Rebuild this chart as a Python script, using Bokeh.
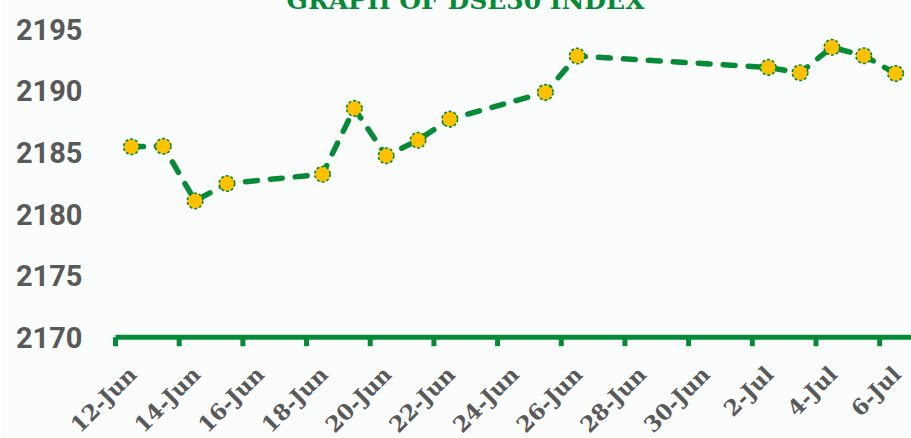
import pandas as pd
from bokeh.plotting import figure
from bokeh.models import Range1d, Label
from bokeh.core.properties import value
from bokeh.embed import file_html
from bokeh.resources import INLINE

# ---- data ----
dates = ["2023-06-12", "2023-06-13", "2023-06-14", "2023-06-15", "2023-06-18",
         "2023-06-19", "2023-06-20", "2023-06-21", "2023-06-22", "2023-06-25",
         "2023-06-26", "2023-07-02", "2023-07-03", "2023-07-04", "2023-07-05",
         "2023-07-06"]
dse30 = [2185.45, 2185.50, 2181.06, 2182.47, 2183.23,
         2188.57, 2184.72, 2185.99, 2187.70, 2189.87,
         2192.82, 2191.90, 2191.46, 2193.53, 2192.85,
         2191.41]
tick_dates = ["2023-06-12", "2023-06-14", "2023-06-16", "2023-06-18", "2023-06-20",
              "2023-06-22", "2023-06-24", "2023-06-26", "2023-06-28", "2023-06-30",
              "2023-07-02", "2023-07-04", "2023-07-06"]
tick_labels = ["12-Jun", "14-Jun", "16-Jun", "18-Jun", "20-Jun", "22-Jun", "24-Jun",
               "26-Jun", "28-Jun", "30-Jun", "2-Jul", "4-Jul", "6-Jul"]
y_ticks = [2170, 2175, 2180, 2185, 2190, 2195]
y_tick_labels = ["2170", "2175", "2180", "2185", "2190", "2195"]
y_base = 2170
title_text = "GRAPH OF DSE30 INDEX"

GREEN = "#078A38"
GOLD = "#FFC000"
GRAY = "#595959"
BG = "#FBFDFD"

DAY = 86400000.0
def ms(s):
    return pd.Timestamp(s).value / 1e6

x_vals = [ms(d) + DAY / 2 for d in dates]      # points sit mid-day
tick_ms = [ms(d) for d in tick_dates]
x_first = ms("2023-06-12")
x_last = ms("2023-07-07")

# layout: the frame fills the whole canvas; axes are drawn inside it
W, H = 911, 450
LEFT = 115             # pixels left of the first date
PX = 12.32             # pixels per index point
AXIS_FROM_TOP = 348.7  # where the base line sits, from canvas top
ms_per_px = (x_last - x_first) / (W - LEFT)
x_view_start = x_first - LEFT * ms_per_px
y_end = y_base + AXIS_FROM_TOP / PX
y_start = y_base - (H - AXIS_FROM_TOP) / PX

p = figure(width=W, height=H, output_backend="svg", toolbar_location=None,
           x_range=Range1d(x_view_start, x_last), y_range=Range1d(y_start, y_end),
           x_axis_location=None, y_axis_location=None,
           min_border_left=0, min_border_right=0, min_border_top=0,
           min_border_bottom=0,
           background_fill_color=BG, border_fill_color=BG, outline_line_color=None,
           styles={"margin-top": "-12px"})

p.xgrid.visible = False
p.ygrid.visible = False

# y tick labels
p.text(x=[x_first] * len(y_ticks), y=y_ticks, text=y_tick_labels,
       x_offset=-33, text_align="right", text_baseline="middle",
       text_font=value("Roboto"), text_font_style="bold",
       text_font_size=value("29px"), text_color=GRAY)

# horizontal base axis
p.segment(x0=[x_first], y0=[y_base], x1=[x_last], y1=[y_base],
          line_color=GREEN, line_width=5)
tick_len = 9 / PX
p.segment(x0=tick_ms, y0=[y_base] * len(tick_ms), x1=tick_ms,
          y1=[y_base - tick_len] * len(tick_ms), line_color=GREEN, line_width=5)
p.text(x=tick_ms, y=[y_base - 33 / PX] * len(tick_ms), text=tick_labels,
       angle=0.785398, x_offset=17, text_align="right", text_baseline="middle",
       text_font=value("DejaVu Serif"), text_font_style="bold",
       text_font_size=value("22px"), text_color=GRAY)

p.line(x_vals, dse30, line_color=GREEN, line_width=5.5, line_dash="12 13",
       line_cap="round", line_join="round")
p.scatter(x_vals, dse30, size=15.5, fill_color=GOLD, line_color=GREEN,
          line_width=1.6, line_dash="3 2")

title = Label(x=x_first + (465 - LEFT) * ms_per_px, y=2197.35, text=title_text,
              text_align="center", text_baseline="alphabetic",
              text_font="DejaVu Serif", text_font_style="bold",
              text_font_size="25px", text_color=GREEN)
p.add_layout(title)

open("out.html", "w").write(file_html(p, INLINE))
